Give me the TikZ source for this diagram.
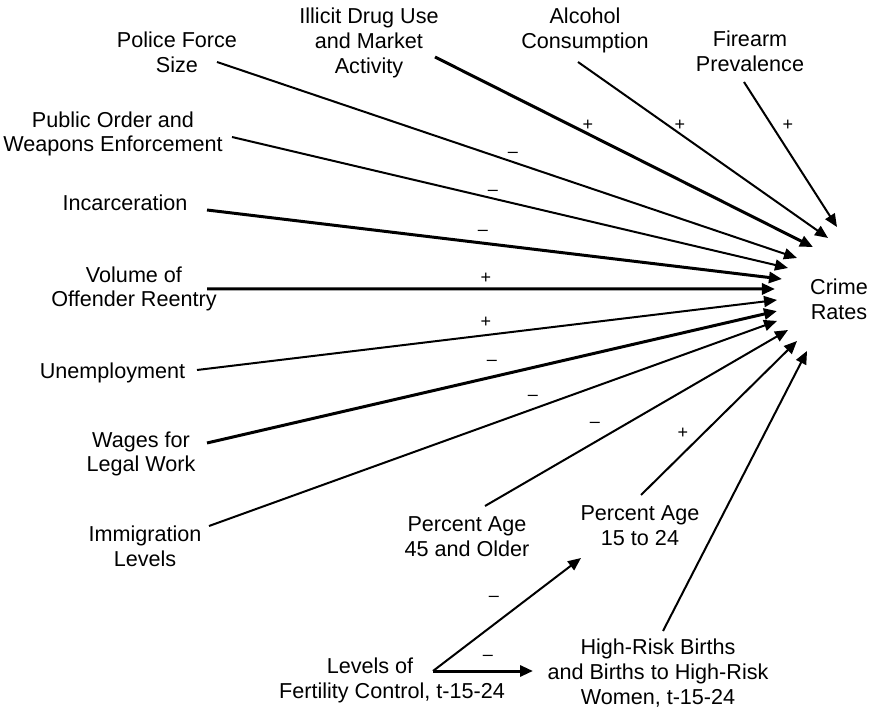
\documentclass[tikz,border=0pt]{standalone}
\usepackage{fontspec}
\setmainfont{Liberation Sans}
\usetikzlibrary{arrows.meta}

\begin{document}
\begin{tikzpicture}[x=0.5pt,y=0.5pt,
		factor/.style={align=center,inner sep=0pt,font=\fontsize{10.8}{12.4}\selectfont},
		sign/.style={inner sep=0pt,font=\fontsize{9}{10}\selectfont},
		link/.style={line width=1pt,-{Triangle[length=6.5pt,width=5.5pt]}},
		strong/.style={link,line width=1.5pt}]
		\useasboundingbox (0,0) rectangle (874,708);
		% the outcome
		\node[factor] (crime) at (839,409) {Crime\\Rates};
		% the factors
		\node[factor] (police) at (177,656) {Police Force\\Size};
		\node[factor] (drug) at (369,665) {Illicit Drug Use\\and Market\\Activity};
		\node[factor] (alcohol) at (585,677.5) {Alcohol\\Consumption};
		\node[factor] (firearm) at (750,656.5) {Firearm\\Prevalence};
		\node[factor] (public) at (113,574) {Public Order and\\Weapons Enforcement};
		\node[factor] (incarc) at (125,505) {Incarceration};
		\node[factor] (reentry) at (134,419) {Volume of\\Offender Reentry};
		\node[factor] (unemp) at (112.5,335) {Unemployment};
		\node[factor] (wages) at (141,254) {Wages for\\Legal Work};
		\node[factor] (immig) at (145,161.5) {Immigration\\Levels};
		\node[factor] (older) at (467,171.5) {Percent Age\\45 and Older};
		\node[factor] (young) at (640,182) {Percent Age\\15 to 24};
		\node[factor] (births) at (658,35) {High-Risk Births\\and Births to High-Risk\\Women, t-15-24};
		\node[factor] (fert) at (392,27.5) {Levels of\phantom{\hspace{22pt}}\\Fertility Control, t-15-24};
		% links into crime rates
		\draw[strong] ([shift={(66,-14)}]drug.center) -- ([shift={(116.6:58.1)}]crime.center);
		\draw[link] ([shift={(-7,-31.5)}]alcohol.center) -- ([shift={(100.2:62)}]crime.center);
		\draw[link] ([shift={(-6,-30.5)}]firearm.center) -- ([shift={(91.6:72)}]crime.center);
		\draw[link] ([shift={(40,-10)}]police.center) -- ([shift={(135.7:58.7)}]crime.center);
		\draw[link] ([shift={(119,-3)}]public.center) -- ([shift={(148.7:59.7)}]crime.center);
		\draw[strong] ([shift={(82,-7)}]incarc.center) -- ([shift={(160.7:60.4)}]crime.center);
		\draw[strong] ([shift={(73,0)}]reentry.center) -- ([shift={(171.1:64.8)}]crime.center);
		\draw[link] ([shift={(84.5,3)}]unemp.center) -- ([shift={(180.9:62)}]crime.center);
		\draw[strong] ([shift={(66,11)}]wages.center) -- ([shift={(191:63.2)}]crime.center);
		\draw[link] ([shift={(64,20.5)}]immig.center) -- ([shift={(199.5:65.8)}]crime.center);
		\draw[link] ([shift={(18,30.5)}]older.center) -- ([shift={(211.3:59.7)}]crime.center);
		\draw[link] ([shift={(1,31)}]young.center) -- ([shift={(225:59.4)}]crime.center);
		\draw[link] ([shift={(5,42)}]births.center) -- ([shift={(238.4:61)}]crime.center);
		% fertility control
		\draw[link] ([shift={(41,9.5)}]fert.center) -- ([shift={(-59,-32)}]young.center);
		\draw[strong] ([shift={(41,9.5)}]fert.center) -- ([shift={(-125,2)}]births.center);
		% signs
		\node[sign] (sdrug) at (588,583) {+};
		\node[sign] (salcohol) at (680,583) {+};
		\node[sign] (sfirearm) at (788,583) {+};
		\node[sign] (spolice) at (513,553) {\textendash};
		\node[sign] (spublic) at (493,515) {\textendash};
		\node[sign] (sincarc) at (483,475) {\textendash};
		\node[sign] (sreentry) at (486,430) {+};
		\node[sign] (sunemp) at (486,386) {+};
		\node[sign] (swages) at (492,345) {\textendash};
		\node[sign] (simmig) at (533,310) {\textendash};
		\node[sign] (solder) at (595,283) {\textendash};
		\node[sign] (syoung) at (683,275) {+};
		\node[sign] (sfyoung) at (494,109) {\textendash};
		\node[sign] (sfbirths) at (488,50) {\textendash};
	\end{tikzpicture}
\end{document}
